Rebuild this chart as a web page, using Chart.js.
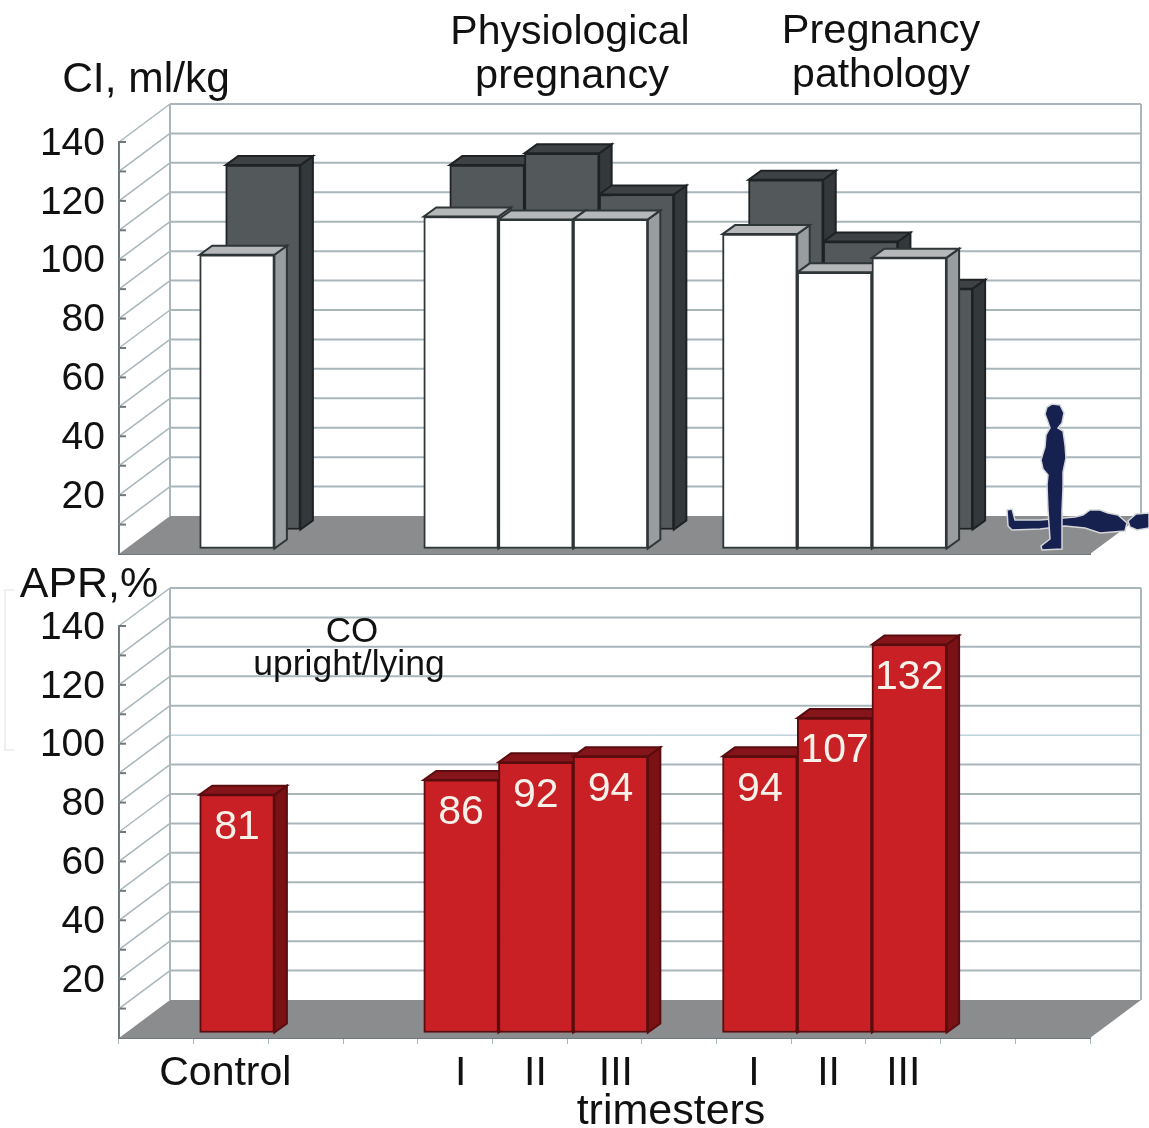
<!DOCTYPE html>
<html>
<head>
<meta charset="utf-8">
<title>CI and APR by trimester</title>
<script src="https://cdn.jsdelivr.net/npm/chart.js@4/dist/chart.umd.min.js"></script>
<style>
    html, body { margin: 0; padding: 0; background: #fff; }
    #wrap { position: relative; width: 1149px; height: 1128px; overflow: hidden; }
    canvas { position: absolute; left: 0; }
    #chart-ci { top: 0; }
    #chart-apr { top: 560px; }
</style>
</head>
<body>
<div id="wrap">
    <canvas id="chart-ci" width="1149" height="560"></canvas>
    <canvas id="chart-apr" width="1149" height="568"></canvas>
</div>
<script>
// 13 slots on the axis, the empty ones separate the groups
const categories = ['', 'Control ', '', '', ' I', ' II', '  III', '', 'I', 'II', 'III', '', ''];
const yTickLabels = [20, 40, 60, 80, 100, 120, 140];

// CI, ml/kg
const ciLying = [null, 100, null, null, 113, 112, 112, null, 107, 94, 99, null, null];
const ciUpright = [null, 124, null, null, 124, 128, 114, null, 119, 98, 82, null, null];
// APR, %
const aprValues = [null, 81, null, null, 86, 92, 94, null, 94, 107, 132, null, null];

const FONT = '"Liberation Sans", Arial, sans-serif';
const GRID = '#a9b6bb';
const AXIS = '#6f787c';
const WALL_DX = 51, WALL_DY = -38;   // back wall offset from the front plane
const BAR_DX = 12.5, BAR_DY = -9;    // depth of a bar

function line(ctx, x1, y1, x2, y2, color, width) {
    ctx.strokeStyle = color;
    ctx.lineWidth = width;
    ctx.beginPath();
    ctx.moveTo(x1, y1);
    ctx.lineTo(x2, y2);
    ctx.stroke();
}

function poly(ctx, pts, fill, stroke, strokeWidth = 2) {
    ctx.beginPath();
    pts.forEach((p, i) => (i ? ctx.lineTo(p[0], p[1]) : ctx.moveTo(p[0], p[1])));
    ctx.closePath();
    ctx.fillStyle = fill;
    ctx.fill();
    if (stroke) {
        ctx.strokeStyle = stroke;
        ctx.lineWidth = strokeWidth;
        ctx.stroke();
    }
}

function drawText(ctx, items) {
    ctx.fillStyle = '#111';
    ctx.textAlign = 'center';
    ctx.textBaseline = 'middle';
    items.forEach(([text, x, y, size]) => {
        ctx.font = `${size}px ${FONT}`;
        ctx.fillText(text, x, y);
    });
}

// floor, back wall and its grid, behind the bars
const wallPlugin = {
    id: 'wall',
    beforeDatasetsDraw(chart) {
        const { ctx, scales: { x, y } } = chart;
        const left = x.left, right = x.right, bottom = y.bottom;
        const opts = chart.options.plugins.wall;
        ctx.save();
        poly(ctx, [
            [left, bottom], [right, bottom],
            [right + WALL_DX, bottom + WALL_DY], [left + WALL_DX, bottom + WALL_DY],
        ], '#8a8c8e');
        for (let v = 10; v <= 140; v += 10) {
            const py = y.getPixelForValue(v);
            line(ctx, left, py, left + WALL_DX, py + WALL_DY, GRID, 1.5);
            line(ctx, left, py, left + 7, py, AXIS, 2);
            if (v === opts.markValue) {
                line(ctx, left + WALL_DX, py + WALL_DY, right + WALL_DX, py + WALL_DY, '#9dbccb', 1);
            } else {
                line(ctx, left + WALL_DX, py + WALL_DY, right + WALL_DX, py + WALL_DY, GRID, 2);
            }
        }
        const top = y.top + WALL_DY;
        line(ctx, left + WALL_DX, top, left + WALL_DX, bottom + WALL_DY, GRID, 2);
        line(ctx, right + WALL_DX, top, right + WALL_DX, bottom + WALL_DY, GRID, 2);
        ctx.restore();
    },
};

// side and top faces of each bar, the front face is the library's own bar
const depthPlugin = {
    id: 'depth',
    beforeDatasetDraw(chart, args) {
        const { ctx } = chart;
        const ds = chart.data.datasets[args.index];
        ctx.save();
        ctx.translate(ds.shiftX, ds.shiftY);
        args.meta.data.forEach((bar, i) => {
            if (ds.data[i] === null) return;
            const l = bar.x - bar.width / 2, r = bar.x + bar.width / 2;
            poly(ctx, [
                [r, bar.y], [r + BAR_DX, bar.y + BAR_DY],
                [r + BAR_DX, bar.base + BAR_DY], [r, bar.base],
            ], ds.sideColor, ds.borderColor);
            poly(ctx, [
                [l, bar.y], [l + BAR_DX, bar.y + BAR_DY],
                [r + BAR_DX, bar.y + BAR_DY], [r, bar.y],
            ], ds.topColor, ds.borderColor);
        });
    },
    afterDatasetDraw(chart) {
        chart.ctx.restore();
    },
};

// woman standing and lying, top chart only
function drawFigures(ctx) {
    const navy = '#17214f';
    const halo = '#d4d6da';
    // lying
    poly(ctx, [
        [1007, 510], [1012, 509], [1015, 520], [1040, 520], [1075, 517], [1083, 515],
        [1090, 510], [1100, 510], [1108, 513], [1118, 515], [1127, 523], [1125, 531],
        [1100, 533], [1085, 528], [1065, 526], [1040, 529], [1012, 530], [1008, 526],
    ], navy, halo, 1.5);
    poly(ctx, [
        [1128, 521], [1136, 514], [1149, 513], [1149, 528], [1137, 530], [1130, 527],
    ], navy, halo, 1.5);
    // standing
    poly(ctx, [
        [1052, 404], [1060, 405], [1064, 413], [1062, 423], [1058, 428], [1063, 431],
        [1065, 445], [1066, 458], [1063, 472], [1063, 488], [1062, 510], [1062, 535],
        [1062, 549], [1042, 550], [1041, 546], [1050, 539], [1048, 510], [1047, 485],
        [1048, 475], [1043, 469], [1041, 460], [1045, 447], [1046, 435], [1050, 428],
        [1048, 422], [1045, 414], [1047, 407],
    ], navy, halo, 1.5);
}

const ciTextPlugin = {
    id: 'ciText',
    afterDatasetsDraw(chart) {
        drawFigures(chart.ctx);
    },
    afterDraw(chart) {
        drawText(chart.ctx, [
            ['CI, ml/kg', 146, 80, 42.5],
            ['Physiological', 570, 33, 41],
            ['pregnancy', 572, 77, 41.5],
            ['Pregnancy', 881, 32, 41.5],
            ['pathology', 881, 76, 41],
        ]);
    },
};

const aprTextPlugin = {
    id: 'aprText',
    afterDatasetsDraw(chart) {
        const { ctx } = chart;
        const ds = chart.data.datasets[0];
        const meta = chart.getDatasetMeta(0);
        ctx.save();
        ctx.fillStyle = '#f7f1ea';
        ctx.font = `41px ${FONT}`;
        ctx.textAlign = 'center';
        ctx.textBaseline = 'middle';
        meta.data.forEach((bar, i) => {
            if (ds.data[i] === null) return;
            ctx.fillText(ds.data[i], bar.x + ds.shiftX, bar.y + ds.shiftY + 33);
        });
        // pale bracket left over in the page behind the axis
        ctx.strokeStyle = '#eef0f0';
        ctx.lineWidth = 2;
        ctx.beginPath();
        ctx.moveTo(14, 30);
        ctx.lineTo(5, 30);
        ctx.lineTo(5, 190);
        ctx.lineTo(14, 190);
        ctx.stroke();
        ctx.restore();
    },
    afterDraw(chart) {
        drawText(chart.ctx, [
            ['APR,%', 89, 25, 43],
            ['CO', 352, 72, 35],
            ['upright/lying', 349, 105, 35.5],
            ['trimesters', 671, 552, 43],
        ]);
    },
};

Chart.register(wallPlugin, depthPlugin);

function buildChart(id, datasets, plugins, cfg) {
    return new Chart(document.getElementById(id).getContext('2d'), {
        type: 'bar',
        data: { labels: categories, datasets },
        plugins,
        options: {
            responsive: false,
            animation: false,
            layout: { padding: { top: cfg.top, right: 59, left: 0, bottom: 0 } },
            plugins: {
                legend: { display: false },
                tooltip: { enabled: false },
                wall: { markValue: cfg.markValue },
            },
            scales: {
                x: {
                    offset: true,
                    afterFit: s => { s.height = cfg.xHeight; },
                    border: { color: AXIS, width: 2 },
                    grid: { drawOnChartArea: false, drawTicks: cfg.xLabels, tickLength: 6, color: GRID, offset: true },
                    ticks: {
                        display: cfg.xLabels,
                        autoSkip: false,
                        maxRotation: 0,
                        padding: 5,
                        color: '#111',
                        font: { family: FONT, size: 41 },
                    },
                },
                y: {
                    min: 0,
                    max: 140,
                    afterFit: s => { s.width = 119; s.paddingTop = 0; s.paddingBottom = 0; },
                    border: { color: AXIS, width: 2 },
                    grid: { drawOnChartArea: false, drawTicks: false },
                    ticks: {
                        stepSize: 10,
                        autoSkip: false,
                        padding: 14,
                        labelOffset: 2,
                        color: '#111',
                        font: { family: FONT, size: 39 },
                        callback: v => (yTickLabels.includes(v) ? v : ''),
                    },
                },
            },
        },
    });
}

function barSet(data, style) {
    return {
        data,
        grouped: false,
        categoryPercentage: 1,
        barPercentage: 1,
        borderWidth: 2,
        borderSkipped: false,
        clip: false,
        ...style,
    };
}

buildChart('chart-ci', [
    barSet(ciLying, {
        order: 1, shiftX: 6, shiftY: -5,
        backgroundColor: '#ffffff', borderColor: '#2f3638',
        sideColor: '#9a9d9f', topColor: '#b5b7b8',
    }),
    barSet(ciUpright, {
        order: 2, shiftX: 32, shiftY: -24,
        backgroundColor: '#53585a', borderColor: '#1e2224',
        sideColor: '#33383a', topColor: '#3e4244',
    }),
], [ciTextPlugin], { top: 142, xHeight: 6, xLabels: false, markValue: null });

buildChart('chart-apr', [
    barSet(aprValues, {
        order: 1, shiftX: 6, shiftY: -5,
        backgroundColor: '#c82025', borderColor: '#5a0c0e',
        sideColor: '#7a1114', topColor: '#85151a',
    }),
], [aprTextPlugin], { top: 66, xHeight: 90, xLabels: true, markValue: 90 });
</script>
</body>
</html>
